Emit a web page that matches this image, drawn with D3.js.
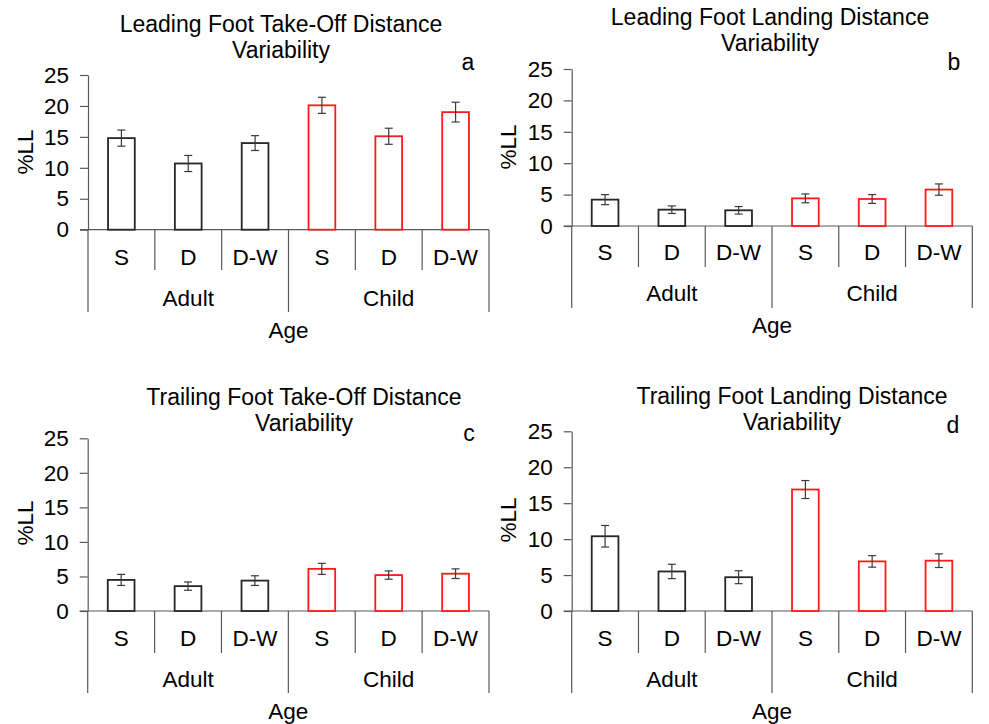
<!DOCTYPE html>
<html><head><meta charset="utf-8">
<script src="https://cdn.jsdelivr.net/npm/d3@7/dist/d3.min.js"></script>
<style>
html,body{margin:0;padding:0;background:#fff;}
svg{display:block;font-family:"Liberation Sans",Arial,sans-serif;}
</style></head>
<body>
<svg id="chart" width="989" height="724"></svg>
<script>
// ---- data ----
const conditions = ["S", "D", "D-W"];
const ageGroups = ["Adult", "Child"];
const yTicks = [0, 5, 10, 15, 20, 25];
const panelLetters = ["a", "b", "c", "d"];
const panelTitles = [
  ["Leading Foot Take-Off Distance", "Variability"],
  ["Leading Foot Landing Distance", "Variability"],
  ["Trailing Foot Take-Off Distance", "Variability"],
  ["Trailing Foot Landing Distance", "Variability"]
];
// values in order Adult S, D, D-W, Child S, D, D-W
const leadTakeOffMeans = [14.8, 10.7, 14.0, 20.1, 15.1, 19.0];
const leadTakeOffErrors = [1.3, 1.3, 1.2, 1.3, 1.3, 1.6];
const leadLandingMeans = [4.2, 2.6, 2.5, 4.4, 4.3, 5.8];
const leadLandingErrors = [0.8, 0.6, 0.6, 0.7, 0.7, 0.9];
const trailTakeOffMeans = [4.5, 3.6, 4.4, 6.1, 5.2, 5.4];
const trailTakeOffErrors = [0.8, 0.6, 0.7, 0.8, 0.6, 0.7];
const trailLandingMeans = [10.4, 5.5, 4.7, 16.9, 6.9, 7.0];
const trailLandingErrors = [1.5, 1.0, 0.9, 1.25, 0.8, 0.95];
const allMeans = [leadTakeOffMeans, leadLandingMeans, trailTakeOffMeans, trailLandingMeans];
const allErrors = [leadTakeOffErrors, leadLandingErrors, trailTakeOffErrors, trailLandingErrors];

// ---- layout (pixels) ----
const layouts = [
  {x0: 88, x1: 489, yTop: 75, yBase: 229.7, tcx: 281, t1: 24, t2: 50, lx: 468, ly: 62,
   catY: 257, grpY: 298, ageY: 330, shortB: 270, longB: 312, ylx: 25, yly: 152},
  {x0: 571.7, x1: 972.3, yTop: 69, yBase: 226, tcx: 770, t1: 17, t2: 43, lx: 954, ly: 62,
   catY: 252, grpY: 293, ageY: 325, shortB: 267, longB: 308, ylx: 508, yly: 147},
  {x0: 87.7, x1: 489, yTop: 438.3, yBase: 611, tcx: 304, t1: 397, t2: 423, lx: 469, ly: 433,
   catY: 638, grpY: 679, ageY: 711, shortB: 653, longB: 693, ylx: 25, yly: 523},
  {x0: 571.7, x1: 972.3, yTop: 431.3, yBase: 611, tcx: 792, t1: 396, t2: 422, lx: 953, ly: 425,
   catY: 638, grpY: 679, ageY: 711, shortB: 653, longB: 693, ylx: 508, yly: 520}
];

const FS = 22.5;
const TFS = 23;
const axisColor = "#595959";
const barColors = {Adult: "#262626", Child: "#ff1a1a"};
const svg = d3.select("#chart");

const keys = [];
ageGroups.forEach(g => conditions.forEach(c => keys.push({g, c, k: g + "|" + c})));

layouts.forEach((L, pi) => {
  const g = svg.append("g");
  const x = d3.scaleBand().domain(keys.map(d => d.k)).range([L.x0, L.x1]).padding(0);
  const y = d3.scaleLinear().domain([0, 25]).range([L.yBase, L.yTop]);
  const bw = x.bandwidth() * 0.4;
  const means = allMeans[pi], errs = allErrors[pi];

  // y axis
  const yAxis = d3.axisLeft(y).tickValues(yTicks).tickSize(8).tickPadding(11).tickSizeOuter(0);
  const ya = g.append("g").attr("transform", `translate(${L.x0},0)`).call(yAxis);
  ya.select(".domain").attr("stroke", axisColor).attr("stroke-width", 1.2);
  ya.selectAll(".tick line").attr("stroke", axisColor).attr("stroke-width", 1.2);
  ya.selectAll(".tick text").attr("font-size", FS).attr("font-family", "Liberation Sans, Arial, sans-serif").attr("fill", "#000");

  // baseline
  g.append("line").attr("x1", L.x0 - 8).attr("x2", L.x1).attr("y1", L.yBase).attr("y2", L.yBase)
    .attr("stroke", axisColor).attr("stroke-width", 1.2);

  // separators
  keys.forEach((d, i) => {
    if (i === 0) return;
    const xx = x(d.k);
    const isGroup = (i % conditions.length === 0);
    g.append("line").attr("x1", xx).attr("x2", xx).attr("y1", L.yBase).attr("y2", isGroup ? L.longB : L.shortB)
      .attr("stroke", axisColor).attr("stroke-width", 1.2);
  });
  [L.x0, L.x1].forEach(xx => {
    g.append("line").attr("x1", xx).attr("x2", xx).attr("y1", L.yBase).attr("y2", L.longB)
      .attr("stroke", axisColor).attr("stroke-width", 1.2);
  });

  // category labels
  g.selectAll(".cat").data(keys).enter().append("text")
    .attr("x", d => x(d.k) + x.bandwidth() / 2).attr("y", L.catY).attr("dy", "0.35em")
    .attr("text-anchor", "middle").attr("font-size", FS).text(d => d.c);
  ageGroups.forEach(grp => {
    const first = x(grp + "|" + conditions[0]);
    const last = x(grp + "|" + conditions[conditions.length - 1]) + x.bandwidth();
    g.append("text").attr("x", (first + last) / 2).attr("y", L.grpY).attr("dy", "0.35em")
      .attr("text-anchor", "middle").attr("font-size", FS).text(grp);
  });
  g.append("text").attr("x", (L.x0 + L.x1) / 2).attr("y", L.ageY).attr("dy", "0.35em")
    .attr("text-anchor", "middle").attr("font-size", FS).text("Age");

  // bars
  g.selectAll(".bar").data(keys).enter().append("rect")
    .attr("x", d => x(d.k) + (x.bandwidth() - bw) / 2)
    .attr("y", (d, i) => y(means[i]))
    .attr("width", bw)
    .attr("height", (d, i) => y(0) - y(means[i]))
    .attr("fill", "#fff")
    .attr("stroke", d => barColors[d.g]).attr("stroke-width", 1.8);

  // error bars
  keys.forEach((d, i) => {
    const cx = x(d.k) + x.bandwidth() / 2;
    const yt = y(means[i] + errs[i]), yb = y(means[i] - errs[i]);
    const eg = g.append("g").attr("stroke", "#3a3a3a").attr("stroke-width", 1.2);
    eg.append("line").attr("x1", cx).attr("x2", cx).attr("y1", yt).attr("y2", yb);
    eg.append("line").attr("x1", cx - 4).attr("x2", cx + 4).attr("y1", yt).attr("y2", yt);
    eg.append("line").attr("x1", cx - 4).attr("x2", cx + 4).attr("y1", yb).attr("y2", yb);
  });

  // titles
  g.append("text").attr("x", L.tcx).attr("y", L.t1).attr("dy", "0.35em").attr("text-anchor", "middle")
    .attr("font-size", TFS).text(panelTitles[pi][0]);
  g.append("text").attr("x", L.tcx).attr("y", L.t2).attr("dy", "0.35em").attr("text-anchor", "middle")
    .attr("font-size", TFS).text(panelTitles[pi][1]);
  g.append("text").attr("x", L.lx).attr("y", L.ly).attr("dy", "0.35em").attr("text-anchor", "middle")
    .attr("font-size", TFS).text(panelLetters[pi]);

  // y label
  g.append("text").attr("transform", `translate(${L.ylx},${L.yly}) rotate(-90)`).attr("dy", "0.35em")
    .attr("text-anchor", "middle").attr("font-size", FS).text("%LL");
});
</script>
</body></html>
